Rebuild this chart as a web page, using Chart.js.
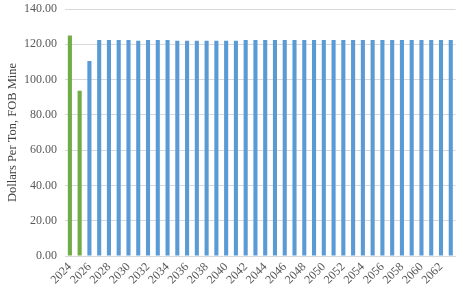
<!DOCTYPE html>
<html>
<head>
<meta charset="utf-8">
<script src="https://cdn.jsdelivr.net/npm/chart.js@4"></script>
<style>
  html, body { margin: 0; padding: 0; background: #fff; }
  #wrap { width: 465px; height: 295px; }
</style>
</head>
<body>
<div id="wrap"><canvas id="chart" width="465" height="295"></canvas></div>
<script>
// years on the x axis
var years = [];
for (var y = 2024; y <= 2063; y++) years.push(String(y));

// price, dollars per ton FOB mine
var prices = [
    125.0, 93.7, 110.5, 122.5, 122.5, 122.5, 122.5, 122.0, 122.5, 122.5,
    122.5, 122.0, 122.0, 122.0, 122.0, 122.0, 122.0, 122.0, 122.5, 122.5,
    122.5, 122.5, 122.5, 122.5, 122.5, 122.5, 122.5, 122.5, 122.5, 122.5,
    122.5, 122.5, 122.5, 122.5, 122.5, 122.5, 122.5, 122.5, 122.5, 122.5
];

// years drawn in green
var actualYears = ['2024', '2025'];

var yTicks = [0, 20, 40, 60, 80, 100, 120, 140];

var GREEN = '#70AD47';
var BLUE = '#5B9BD5';
var serif = "'Liberation Serif', 'Times New Roman', serif";

var ctx = document.getElementById('chart').getContext('2d');
var chart = new Chart(ctx, {
    type: 'bar',
    data: {
        labels: years,
        datasets: [{
            data: prices,
            backgroundColor: years.map(function (yr) {
                return actualYears.indexOf(yr) >= 0 ? GREEN : BLUE;
            }),
            barPercentage: 0.42,
            categoryPercentage: 1.0
        }]
    },
    options: {
        responsive: false,
        animation: false,
        layout: { padding: { top: 0, right: 4, left: 5, bottom: 0 } },
        plugins: {
            legend: { display: false },
            tooltip: { enabled: false }
        },
        scales: {
            x: {
                grid: { display: false, drawTicks: false },
                border: { display: true, color: '#d9d9d9', width: 1 },
                ticks: {
                    autoSkip: false,
                    maxRotation: 45,
                    minRotation: 45,
                    padding: 4,
                    color: '#595959',
                    font: { family: serif, size: 12 },
                    callback: function (val, i) {
                        return i % 2 === 0 ? years[i] : '';
                    }
                },
                afterFit: function (scale) { scale.height = 39; }
            },
            y: {
                min: 0,
                max: 140,
                afterBuildTicks: function (scale) {
                    scale.ticks = yTicks.map(function (v) { return { value: v }; });
                },
                grid: { color: '#d9d9d9', drawTicks: false },
                border: { display: false },
                ticks: {
                    padding: 8,
                    color: '#595959',
                    font: { family: serif, size: 12 },
                    callback: function (v) { return Number(v).toFixed(2); }
                },
                title: {
                    display: true,
                    text: 'Dollars Per Ton, FOB Mine',
                    color: '#404040',
                    font: { family: serif, size: 12.5 },
                    padding: { top: 0, bottom: 2 }
                },
                afterFit: function (scale) {
                    scale.width = 60;
                    scale.paddingTop = 9;
                }
            }
        }
    }
});
</script>
</body>
</html>
